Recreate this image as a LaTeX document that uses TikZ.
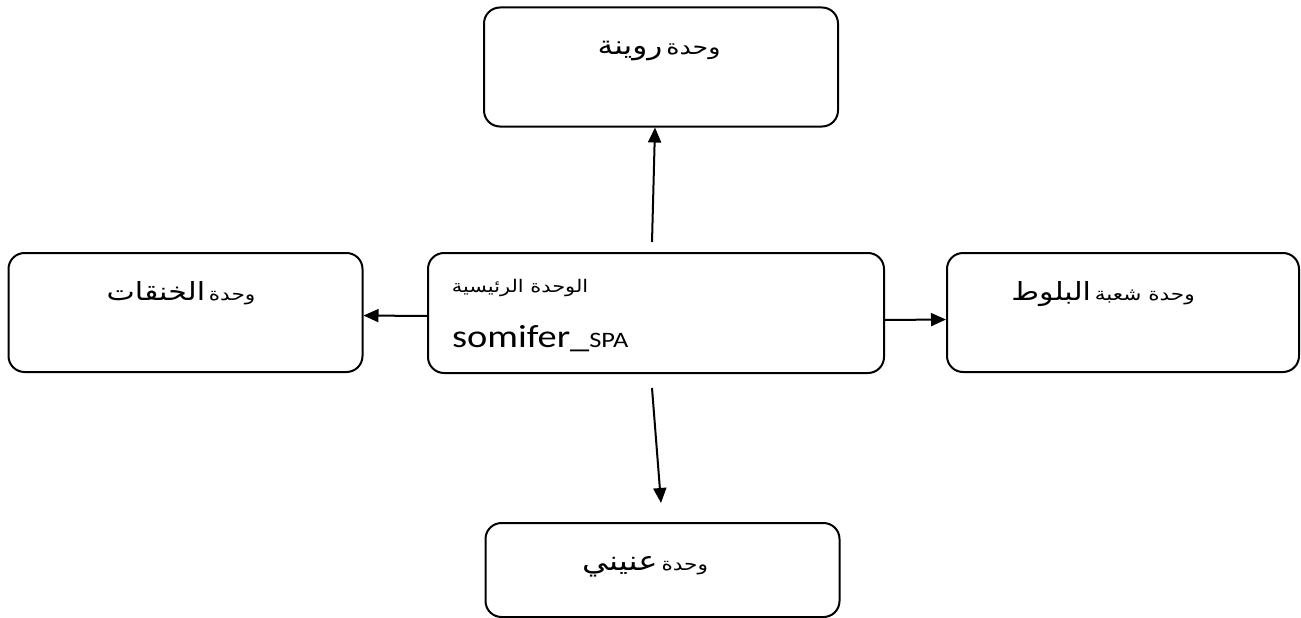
\documentclass[tikz,border=0pt]{standalone}
\usepackage{fontspec}
\setmainfont{Carlito}[FakeStretch=1.2]
\newfontfamily\arabicfont[Script=Arabic,FakeStretch=1.2]{DejaVu Sans}
\TeXXeTstate=1
\usepackage{tikz}
\usetikzlibrary{arrows.meta}
\tikzstyle{unit}=[draw, rounded corners=16pt, line width=2pt, minimum width=354pt, minimum height=119pt]
\tikzstyle{link}=[-{Triangle[length=15pt,width=13pt]}, line width=2pt]
\tikzstyle{lbl}=[anchor=base, inner sep=0pt]
\newcommand{\smar}{\fontsize{18}{20}\selectfont}
\newcommand{\lgar}{\fontsize{25}{28}\selectfont}

\begin{document}
\begin{tikzpicture}[x=1pt,y=-1pt]
\useasboundingbox (0,0) rectangle (1301,618);
\node (rw) at (661,67) [unit] {};
\node (kh) at (185.5,312.5) [unit] {};
\node (main) at (656,313) [unit, minimum width=456pt, minimum height=120pt] {};
\node (bl) at (1123,312.5) [unit, minimum width=352pt] {};
\node (an) at (662.5,570) [unit, minimum height=94pt] {};
% texts
\node (rwt) at (659,55) [lbl] {\arabicfont\beginR{\fontsize{21}{24}\selectfont وحدة} {\fontsize{26}{30}\selectfont روينة}\endR};
\node (kht) at (181,300) [lbl] {\arabicfont\beginR{\smar وحدة} {\lgar الخنقات}\endR};
\node (mainar) at (520,292) [lbl] {\arabicfont\beginR{\fontsize{17.4}{20}\selectfont الوحدة الرئيسية}\endR};
\node (mainla) at (452,347) [lbl, anchor=base west] {\fontsize{32}{36}\selectfont somifer\_{\fontsize{22}{26}\selectfont SPA}};
\node (blt) at (1103,300) [lbl] {\arabicfont\beginR{\smar وحدة شعبة} {\lgar البلوط}\endR};
\node (ant) at (645,570) [lbl] {\arabicfont\beginR{\smar وحدة} {\fontsize{27}{30}\selectfont عنيني}\endR};
% arrows
\coordinate (upfrom) at (652,242);
\coordinate (downfrom) at (652,388);
\coordinate (downto) at (661,503);
\draw[link] (upfrom) -- ([xshift=-6pt]rw.south);
\draw[link] (downfrom) -- (downto);
\draw[link] ([yshift=-3pt]main.west) -- ([yshift=-3pt]kh.east);
\draw[link] ([yshift=-7pt]main.east) -- ([yshift=-7pt]bl.west);
\end{tikzpicture}
\end{document}
